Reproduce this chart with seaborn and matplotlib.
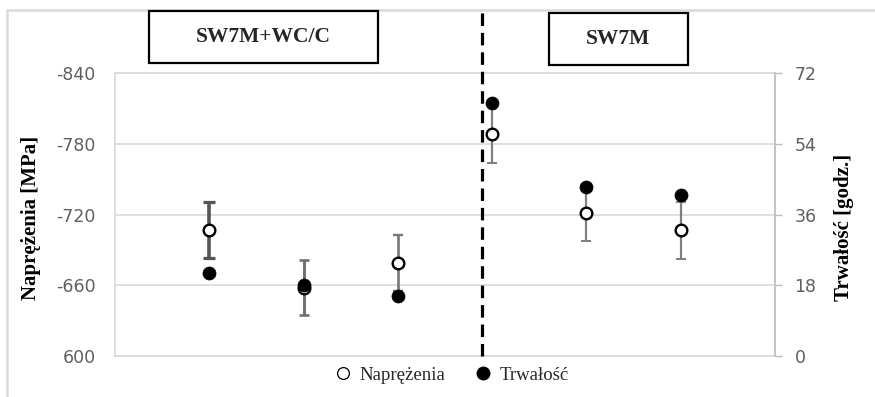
import matplotlib
matplotlib.use("Agg")
import matplotlib.pyplot as plt
import matplotlib.patches as mpatches
from matplotlib.lines import Line2D
import seaborn as sns
import pandas as pd

# ---- data ----
positions = [1, 2, 3, 4, 5, 6]
groups = ["SW7M+WC/C", "SW7M"]
stress = [-707, -658, -679, -788, -721.5, -706.5]          # Naprężenia [MPa]
stress_err = [24, 23.5, 24, 24, 24, 24]
durability = [21.0, 18.1, 15.3, 64.3, 43.1, 41.0]          # Trwałość [godz.]
left_ticks = [-840, -780, -720, -660, -600]
left_tick_labels = ["-840", "-780", "-720", "-660", "600"]
right_ticks = [0, 18, 36, 54, 72]
right_tick_labels = ["0", "18", "36", "54", "72"]
divider_x = 3.89
series_names = ["Naprężenia", "Trwałość"]

df = pd.DataFrame({"x": positions, "stress": stress, "err": stress_err,
                   "dur": durability})

# ---- styles ----
err_colors = ["#555555", "#6e6e6e", "#777777", "#808080", "#808080", "#808080"]
err_widths = [2.6, 2.1, 1.9, 1.6, 1.6, 1.6]
cap_sizes = [4.2, 3.9, 3.9, 3.8, 3.8, 3.8]

sns.set_theme(style="white")
plt.rcParams["font.family"] = ["DejaVu Sans"]
plt.rcParams["lines.scale_dashes"] = False

W, H = 875, 397
fig = plt.figure(figsize=(W / 100, H / 100), dpi=100)
L, R, B, T = 115, 775, 356, 73
ax = fig.add_axes([L / W, 1 - B / H, (R - L) / W, (B - T) / H])
ax2 = ax.twinx()

# left axis (stress)
ax.set_xlim(0, 7)
ax.set_ylim(-600, -840)
ax.set_yticks(left_ticks)
ax.set_yticklabels(left_tick_labels)
ax.set_xticks([])
ax.grid(axis="y", color="#d9d9d9", lw=1.2)
ax.set_axisbelow(True)
ax.tick_params(axis="y", length=0, pad=14, labelsize=12.5, labelcolor="#5f5f5f")
for s in ax.spines.values():
    s.set_color("#d9d9d9")
    s.set_linewidth(1.2)

# right axis (durability)
ax2.set_ylim(0, 72)
ax2.set_yticks(right_ticks)
ax2.set_yticklabels(right_tick_labels)
ax2.tick_params(axis="y", length=5, width=1.0, color="#bfbfbf", pad=9,
                labelsize=12.5, labelcolor="#5f5f5f", direction="out")
ax2.grid(False)
for s in ax2.spines.values():
    s.set_visible(False)
ax2.spines["right"].set_visible(True)
ax2.spines["right"].set_color("#bfbfbf")
ax2.spines["right"].set_linewidth(1.2)

# error bars of stress
for i in range(len(df)):
    ax.errorbar(df["x"][i], df["stress"][i], yerr=df["err"][i], fmt="none",
                ecolor=err_colors[i], elinewidth=err_widths[i],
                capsize=cap_sizes[i], capthick=err_widths[i] * 0.9, zorder=2)

sns.scatterplot(data=df, x="x", y="stress", ax=ax, s=70, marker="o",
                facecolor="white", edgecolor="black", linewidth=1.7, zorder=3,
                legend=False)
sns.scatterplot(data=df, x="x", y="dur", ax=ax2, s=88, marker="o",
                color="black", edgecolor="black", linewidth=0.5, zorder=4,
                legend=False)
ax.set_xlabel("")
ax2.set_xlabel("")

# dashed divider
ax.axvline(divider_x, ymin=0, ymax=(B - 8) / (B - T), color="black", lw=2.3,
           ls=(0, (9, 5)), clip_on=False, zorder=5)

# axis labels
serif = ["Liberation Serif", "DejaVu Serif"]
ax.set_ylabel("Naprężenia [MPa]", family=serif, fontweight="bold",
              fontsize=15, color="black")
ax.yaxis.set_label_coords((41.5 - L) / (R - L), (B - 218) / (B - T))
ax2.set_ylabel("Trwałość [godz.]", family=serif, fontweight="bold",
               fontsize=15, color="black", rotation=90)
ax2.yaxis.set_label_coords((834 - L) / (R - L), (B - 227) / (B - T))

# group boxes
boxes = [(148.5, 10.7, 377.5, 62.7), (549, 13, 687.7, 65)]
for (x0, y0, x1, y1), name in zip(boxes, groups):
    rect = mpatches.Rectangle((x0 / W, 1 - y1 / H), (x1 - x0) / W, (y1 - y0) / H,
                              transform=fig.transFigure, fill=True,
                              facecolor="white", edgecolor="black", lw=1.6,
                              zorder=6)
    fig.patches.append(rect)
    fig.text((x0 + x1) / 2 / W, 1 - (y0 + y1) / 2 / H, name, family=serif,
             fontweight="bold", fontsize=15.5, ha="center", va="center",
             zorder=7)

# outer border (cropped chart frame)
frame = mpatches.Rectangle((7 / W, -0.2), 1.5, 1.2 - 10 / H,
                           transform=fig.transFigure, fill=False,
                           edgecolor="#d9d9d9", lw=1.8, zorder=0)
fig.patches.append(frame)

# legend
handles = [
    Line2D([], [], ls="none", marker="o", markersize=8.5,
           markerfacecolor="white", markeredgecolor="black",
           markeredgewidth=0.9),
    Line2D([], [], ls="none", marker="o", markersize=9,
           markerfacecolor="black", markeredgecolor="black"),
]
fig.legend(handles, series_names, loc="center",
           bbox_to_anchor=(452 / W, 1 - 375 / H), ncol=2, frameon=False,
           prop={"family": serif, "size": 13.5}, handlelength=0.8,
           handletextpad=0.5, columnspacing=1.6)

fig.savefig("out.png", dpi=100, facecolor="white")
